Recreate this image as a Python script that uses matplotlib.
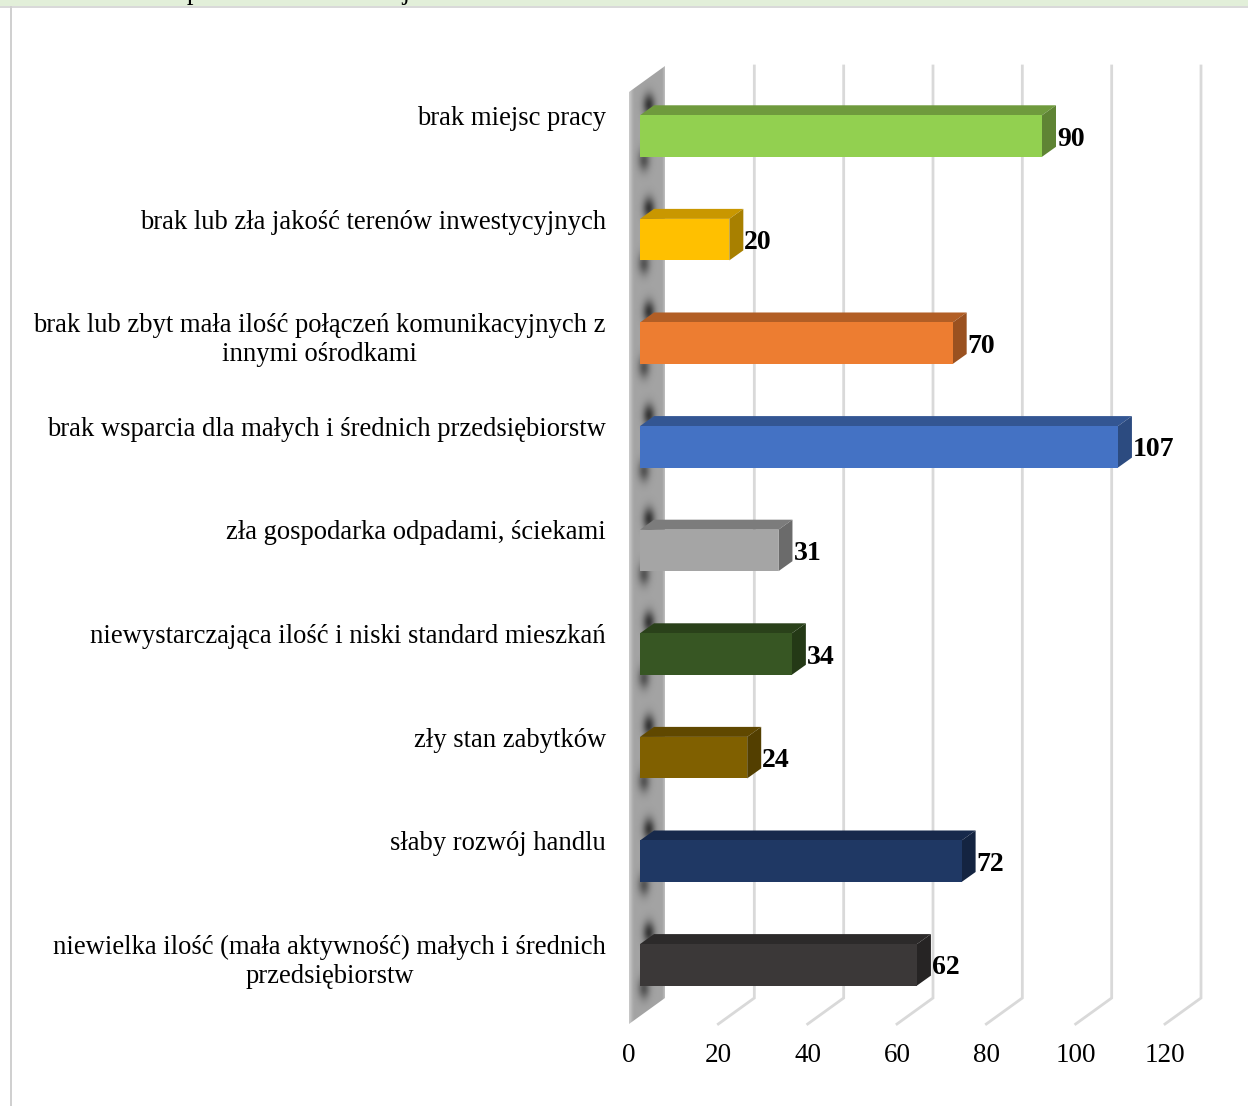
import numpy as np
import matplotlib
matplotlib.use('Agg')
import matplotlib.pyplot as plt
from matplotlib.patches import Polygon, Rectangle

plt.rcParams['font.family'] = ['Liberation Serif', 'DejaVu Serif']

categories = ['brak miejsc pracy',
              'brak lub zła jakość terenów inwestycyjnych',
              'brak lub zbyt mała ilość połączeń komunikacyjnych z\ninnymi ośrodkami',
              'brak wsparcia dla małych i średnich przedsiębiorstw',
              'zła gospodarka odpadami, ściekami',
              'niewystarczająca ilość i niski standard mieszkań',
              'zły stan zabytków',
              'słaby rozwój handlu',
              'niewielka ilość (mała aktywność) małych i średnich\nprzedsiębiorstw']
values = [90, 20, 70, 107, 31, 34, 24, 72, 62]
front_colors = ['#92d050', '#ffc000', '#ed7d31', '#4472c4', '#a5a5a5',
                '#375623', '#806000', '#1f3864', '#3b3838']
top_colors = ['#6f9a3d', '#c99700', '#b25e25', '#335693', '#7c7c7c',
              '#2a411a', '#604800', '#17294b', '#2c2a2a']
side_colors = ['#5f8434', '#a88000', '#9a5120', '#2c4b80', '#6b6b6b',
               '#243916', '#533f00', '#142441', '#262424']
x_ticks = [0, 20, 40, 60, 80, 100, 120]
# only the bottom edge of this line shows in the reference, the wording is a guess
cut_off_line = 'w przestrzeni w ul. maj.:'

W, H = 1248, 1106
fig = plt.figure(figsize=(W / 100, H / 100), dpi=100)

# page bits around the chart
fig.patches.append(Rectangle((0, 1 - 6 / H), 1, 6 / H, transform=fig.transFigure, fc='#e2efd9', ec='none'))
fig.patches.append(Rectangle((0, 1 - 8 / H), 1, 2 / H, transform=fig.transFigure, fc='#d9d9d9', ec='none'))
fig.patches.append(Rectangle((10 / W, 0), 1.5 / W, 1 - 6 / H, transform=fig.transFigure, fc='#d0d0d0', ec='none'))
fig.text(161 / W, 1 + 1 / H, cut_off_line, fontsize=19.2, va='baseline', ha='left', color='black')

# front plane of the 3d box, in pixels of the figure
ax = fig.add_axes([629 / W, 1 - 1024 / H, (1165 - 629) / W, (1024 - 92) / H])
y_bot, y_top = 8.571, -0.425
ax.patch.set_alpha(0)
for s in ax.spines.values():
    s.set_visible(False)

px_x = 120 / (1165 - 629)      # data units per pixel
px_y = (y_bot - y_top) / (1024 - 92)
wall_dx, wall_dy = 36 * px_x, 26 * px_y
bar_x0 = 11 * px_x
bar_dx, bar_dy = 14 * px_x, 10 * px_y
bar_h = 41.5 * px_y
y_pos = np.arange(len(values))

# gridlines on the back wall and floor
for v in x_ticks[1:]:
    ax.plot([v, v + wall_dx, v + wall_dx], [y_bot, y_bot - wall_dy, y_top - wall_dy],
            color='#d9d9d9', lw=2, clip_on=False, zorder=1, solid_joinstyle='miter')

# side wall, soft shadow above and below each bar
ny, nx = 958, 72
X, Y = np.meshgrid(np.linspace(0, wall_dx, nx), np.linspace(y_top - wall_dy, y_bot, ny))
shade = np.full((ny, nx), 0.64)
for y in y_pos:
    t, b = y - bar_h / 2, y + bar_h / 2
    shade -= 0.42 * np.exp(-((X - 20 * px_x) / (6 * px_x)) ** 2 - ((Y - (t - 11 * px_y)) / (11 * px_y)) ** 2)
    shade -= 0.30 * np.exp(-((X - 15 * px_x) / (6 * px_x)) ** 2 - ((Y - (b + 3 * px_y)) / (11 * px_y)) ** 2)
shade += 0.14 * np.exp(-(X / (3 * px_x)) ** 2)
shade += 0.10 * np.exp(-((X - wall_dx) / (1.5 * px_x)) ** 2)
im = ax.imshow(shade, extent=[0, wall_dx, y_bot, y_top - wall_dy], cmap='gray', vmin=0, vmax=1,
               aspect='auto', interpolation='bilinear', zorder=2)
wall = Polygon([(0, y_top), (wall_dx, y_top - wall_dy), (wall_dx, y_bot - wall_dy), (0, y_bot)],
               closed=True, fc='none', ec='none')
ax.add_patch(wall)
im.set_clip_box(fig.bbox)
im.set_clip_path(wall)
ax.set_xlim(0, 120)
ax.set_ylim(y_bot, y_top)

# bars: front, top and side faces
ax.barh(y_pos, values, left=bar_x0, height=bar_h, color=front_colors, zorder=5, clip_on=False)
for y, v, ct, cs in zip(y_pos, values, top_colors, side_colors):
    x1 = bar_x0 + v
    t, b = y - bar_h / 2, y + bar_h / 2
    ax.add_patch(Polygon([(bar_x0, t), (x1, t), (x1 + bar_dx, t - bar_dy), (bar_x0 + bar_dx, t - bar_dy)],
                         fc=ct, ec='none', zorder=4, clip_on=False))
    ax.add_patch(Polygon([(x1, t), (x1 + bar_dx, t - bar_dy), (x1 + bar_dx, b - bar_dy), (x1, b)],
                         fc=cs, ec='none', zorder=4, clip_on=False))
    ax.text(x1 + bar_dx + 1 * px_x, y + 3 * px_y, str(v), ha='left', va='center', fontsize=20, fontweight='bold',
            color='black', zorder=6, clip_on=False)

# tick labels
ax.set_xticks(x_ticks)
ax.set_xticklabels([str(v) for v in x_ticks], fontsize=19.5)
ax.tick_params(axis='x', length=0, pad=14)
ax.set_yticks([])
for y, label in zip(y_pos, categories):
    ax.text(-23 * px_x, y - 30 * px_y, label, ha='right', va='top', multialignment='center', fontsize=19.2,
            linespacing=1.22, clip_on=False, zorder=6)

fig.savefig('out.png', dpi=100)
